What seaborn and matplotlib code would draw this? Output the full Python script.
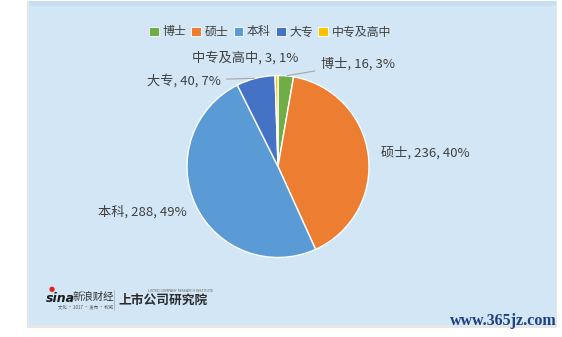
import numpy as np
import matplotlib
matplotlib.use("Agg")
import matplotlib.pyplot as plt
from matplotlib.patches import Rectangle
import seaborn as sns

# Education breakdown of staff
categories = ["博士", "硕士", "本科", "大专", "中专及高中"]
counts = [16, 236, 288, 40, 3]
percent_labels = ["3%", "40%", "49%", "7%", "1%"]

sns.set_theme(style="white")
plt.rcParams["font.family"] = ["Noto Sans CJK SC", "DejaVu Sans"]

palette = sns.color_palette(["#70AD47", "#ED7D31", "#5B9BD5", "#4472C4", "#FFC000"])
bg = "#D2E6F5"
text_color = "#404040"

W, H = 562, 337
fig = plt.figure(figsize=(W / 100, H / 100), dpi=100)
fig.patch.set_facecolor("white")

def fx(px):
    return px / W

def fy(py):
    return 1 - py / H

# chart panel with a soft drop shadow
fig.patches.append(Rectangle((fx(27), fy(328)), fx(530), (325 - 1 + 3) / H,
                             transform=fig.transFigure, facecolor="#E6E6E6",
                             edgecolor="none", zorder=-3))
fig.patches.append(Rectangle((fx(29), fy(325)), fx(527), (325 - 1) / H,
                             transform=fig.transFigure, facecolor=bg,
                             edgecolor="none", zorder=-2))
fig.patches.append(Rectangle((fx(29), fy(6)), fx(527), 5 / H,
                             transform=fig.transFigure, facecolor="#C9DEF0",
                             edgecolor="none", zorder=-1))

# pie axes: centre (278, 166.5) px, radius 91 px
cx, cy, r = 278, 166.5, 91
ax = fig.add_axes([fx(cx - r), fy(cy + r), 2 * r / W, 2 * r / H])
ax.set_facecolor("none")
wedges, _ = ax.pie(counts, colors=palette, startangle=90, counterclock=False,
                   radius=1.0, wedgeprops=dict(edgecolor="white", linewidth=1.0))
ax.set_xlim(-1, 1)
ax.set_ylim(-1, 1)
ax.set_aspect("equal")
ax.axis("off")

# label offsets (pixels) from each wedge's outer mid-point, and whether a leader is drawn
offsets = [(72, 12), (57, 2), (-53, -6), (-72, -2), (-31, 18)]
leaders = [True, False, False, True, False]

for w, cat, n, pct, off, lead in zip(wedges, categories, counts, percent_labels, offsets, leaders):
    mid = np.deg2rad((w.theta1 + w.theta2) / 2)
    anchor = (np.cos(mid), np.sin(mid))
    arrow = dict(arrowstyle="-", color="#A6A6A6", lw=0.8,
                 shrinkA=2, shrinkB=1) if lead else None
    ax.annotate(f"{cat}, {n}, {pct}", xy=anchor, xytext=off,
                textcoords="offset pixels", ha="center", va="center",
                fontsize=9.5, color=text_color, arrowprops=arrow,
                annotation_clip=False)

# legend
handles = [Rectangle((0, 0), 1, 1, facecolor=c, edgecolor="white", lw=0.6) for c in palette]
fig.legend(handles, categories, loc="center", bbox_to_anchor=(fx(270), fy(32)),
           ncol=5, frameon=False, fontsize=8.6, labelcolor=text_color,
           handlelength=0.8, handleheight=0.8, handletextpad=0.3,
           columnspacing=0.45, borderpad=0)

# publisher marks
fig.text(fx(46), fy(298), "sina", fontsize=9, fontweight="bold", style="italic",
         color="#1a1a1a", va="center", ha="left", family="DejaVu Sans")
fig.text(fx(52), fy(288.5), "●", fontsize=5, color="#E2231A", va="center", ha="center",
         family="DejaVu Sans")
fig.text(fx(73), fy(297), "新浪财经", fontsize=7.5, color="#333333", va="center", ha="left")
fig.text(fx(58), fy(307), "文化 · 2017 · 发布 · 权威", fontsize=3.2, color="#555555",
         va="center", ha="left")
fig.lines.append(plt.Line2D([fx(114), fx(114)], [fy(290), fy(310)],
                            transform=fig.transFigure, color="#B0B0B0", lw=0.6))
fig.text(fx(118), fy(300), "上市公司研究院", fontsize=9.2, fontweight="bold",
         style="italic", color="#2b2b2b", va="center", ha="left")
fig.text(fx(148), fy(291), "LISTED COMPANY RESEARCH INSTITUTE", fontsize=2.3,
         color="#666666", va="center", ha="left", family="DejaVu Sans")

# site mark
fig.text(fx(557), fy(321), "www.365jz.com", fontsize=11.5, fontweight="bold",
         color="#1F3F80", va="center", ha="right", family="Liberation Serif")

fig.savefig("out.png", dpi=100, facecolor="white")
